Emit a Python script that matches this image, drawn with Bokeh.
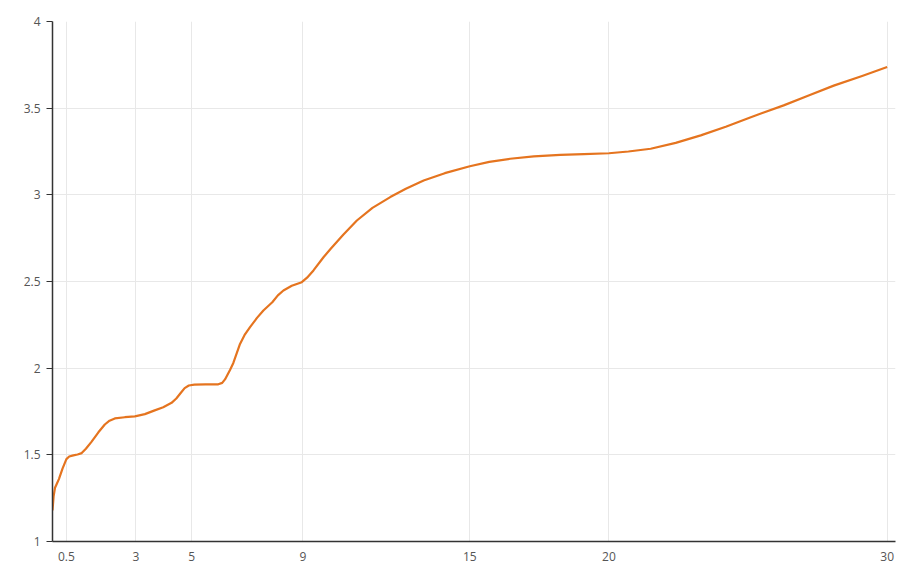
from bokeh.plotting import figure
from bokeh.models import Range1d, FixedTicker
from bokeh.embed import file_html
from bokeh.resources import INLINE

# Tenor (years) and yield (%)
tenors = [0.0, 0.04, 0.09, 0.16, 0.23, 0.36, 0.5, 0.6, 0.75, 0.9, 1.05, 1.2, 1.4, 1.65,
          1.88, 2.05, 2.24, 2.6, 2.96, 3.32, 3.65, 3.98, 4.28, 4.45, 4.6, 4.75, 4.9, 5.1,
          5.5, 5.96, 6.1, 6.2, 6.38, 6.5, 6.74, 6.9, 7.1, 7.35, 7.58, 7.9, 8.1, 8.3, 8.6,
          8.96, 9.15, 9.38, 9.74, 10.0, 10.45, 10.94, 11.5, 12.14, 12.7, 13.34, 14.1, 15.0,
          15.7, 16.45, 17.3, 18.25, 19.1, 20.0, 20.7, 21.5, 22.4, 23.3, 24.2, 25.1, 26.28,
          27.2, 28.08, 29.1, 30.0]
yields = [1.18, 1.26, 1.31, 1.335, 1.36, 1.42, 1.475, 1.49, 1.497, 1.502, 1.51, 1.535, 1.575, 1.63,
          1.675, 1.697, 1.71, 1.717, 1.722, 1.735, 1.755, 1.775, 1.80, 1.825, 1.855, 1.885, 1.90, 1.905,
          1.906, 1.907, 1.915, 1.935, 1.99, 2.03, 2.14, 2.19, 2.237, 2.29, 2.333, 2.38, 2.42, 2.448, 2.475,
          2.496, 2.522, 2.564, 2.64, 2.689, 2.77, 2.852, 2.925, 2.987, 3.035, 3.083, 3.125, 3.165,
          3.19, 3.208, 3.222, 3.23, 3.235, 3.24, 3.25, 3.266, 3.30, 3.343, 3.393, 3.448, 3.516,
          3.574, 3.63, 3.686, 3.737]

x_ticks = [0.5, 3, 5, 9, 15, 20, 30]
y_ticks = [1, 1.5, 2, 2.5, 3, 3.5, 4]

p = figure(width=900, height=572, output_backend="svg", toolbar_location=None,
           x_range=Range1d(0, 30.3), y_range=Range1d(1, 4),
           min_border_left=52, min_border_top=21, min_border_right=5, min_border_bottom=31)
p.outline_line_color = None
p.background_fill_color = "white"
p.border_fill_color = "white"

p.line(tenors, yields, line_color="#E5741F", line_width=2.2, line_join="round")

font = "Open Sans"
p.xaxis.ticker = FixedTicker(ticks=x_ticks)
p.yaxis.ticker = FixedTicker(ticks=y_ticks)
p.yaxis.major_label_overrides = {1: "1", 1.5: "1.5", 2: "2", 2.5: "2.5", 3: "3", 3.5: "3.5", 4: "4"}
p.xaxis.major_label_overrides = {0.5: "0.5", 3: "3", 5: "5", 9: "9", 15: "15", 20: "20", 30: "30"}

for ax in (p.xaxis, p.yaxis):
    ax.axis_line_color = "#333333"
    ax.axis_line_width = 1.5
    ax.major_label_text_font = font
    ax.major_label_text_font_size = "12px"
    ax.major_label_text_color = "#555555"
    ax.minor_tick_line_color = None
    ax.major_tick_in = 0

p.xaxis.major_tick_line_color = None
p.xaxis.major_tick_out = 0
p.xaxis.major_label_standoff = 10
p.yaxis.major_tick_line_color = "#333333"
p.yaxis.major_tick_out = 6
p.yaxis.major_label_standoff = 6

p.xgrid.grid_line_color = "#e8e8e8"
p.ygrid.grid_line_color = "#e8e8e8"
p.xgrid.ticker = FixedTicker(ticks=x_ticks)
p.ygrid.ticker = FixedTicker(ticks=y_ticks)

open("out.html", "w").write(file_html(p, INLINE))
